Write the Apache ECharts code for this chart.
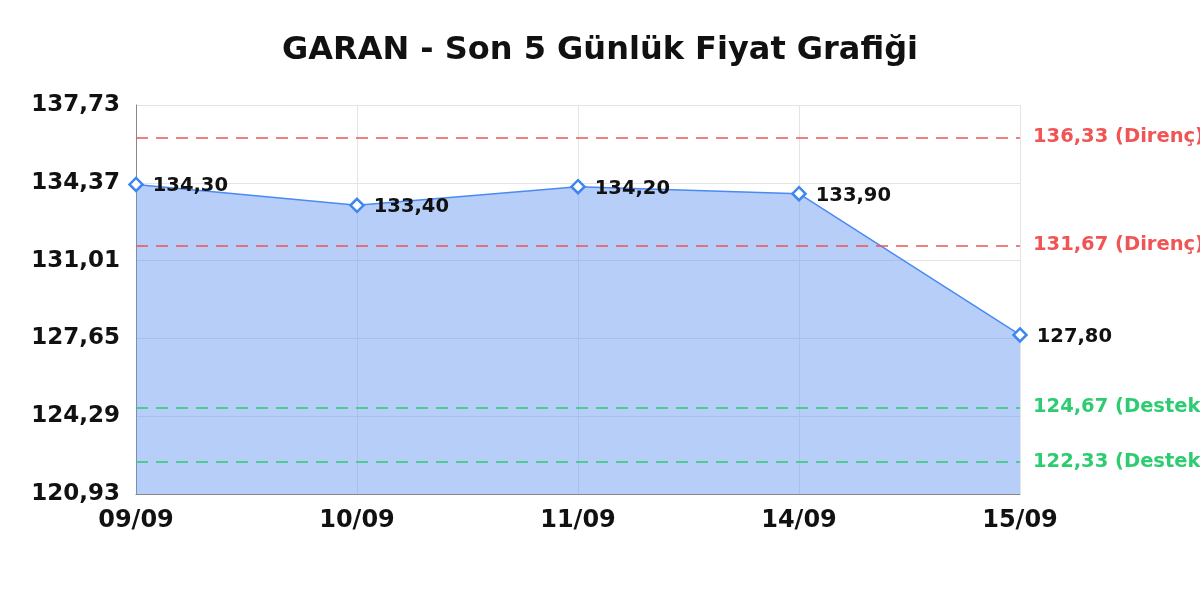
<!DOCTYPE html>
<html><head><meta charset="utf-8">
<script src="https://cdn.jsdelivr.net/npm/echarts@6/dist/echarts.min.js"></script>
<style>html,body{margin:0;padding:0;background:#fff}#c{width:1200px;height:600px}</style>
</head><body><div id="c"></div>
<script>
const categories = ['09/09','10/09','11/09','14/09','15/09'];
const prices = [134.30, 133.40, 134.20, 133.90, 127.80];
const resistance = [136.33, 131.67];
const support = [124.67, 122.33];
const yMin = 120.93, yMax = 137.73, yStep = 3.36;
const fmt = v => v.toFixed(2).replace('.', ',');
const FONT = 'DejaVu Sans';
const chart = echarts.init(document.getElementById('c'));
const markData = resistance.map(v => ({yAxis: v, name: 'Direnç', lineStyle:{color:'#f05454'}, label:{color:'#f05454'}}))
  .concat(support.map(v => ({yAxis: v, name: 'Destek', lineStyle:{color:'#2ecc71'}, label:{color:'#2ecc71'}})));
chart.setOption({
  animation: false,
  title: {text: 'GARAN - Son 5 Günlük Fiyat Grafiği', left: 'center', top: 30,
    textStyle: {fontFamily: FONT, fontSize: 32, fontWeight: 'bold', color: '#111'}},
  grid: {left: 136, right: 180, top: 105, bottom: 106},
  xAxis: {type: 'category', data: categories, boundaryGap: false,
    axisLine: {lineStyle: {color: '#888'}}, axisTick: {show: false},
    axisLabel: {fontFamily: FONT, fontSize: 24, fontWeight: 'bold', color: '#111', margin: 15},
    splitLine: {show: true, lineStyle: {color: '#e4e4e4'}}},
  yAxis: {type: 'value', min: yMin, max: yMax, interval: yStep,
    axisLine: {show: true, lineStyle: {color: '#888'}}, axisTick: {show: false},
    axisLabel: {fontFamily: FONT, fontSize: 23, fontWeight: 'bold', color: '#111', margin: 16, formatter: v => fmt(v)},
    splitLine: {show: true, lineStyle: {color: '#e4e4e4'}}},
  series: [{
    type: 'line', data: prices, symbol: 'diamond', symbolSize: 13,
    itemStyle: {color: '#ffffff', borderColor: '#3d85f0', borderWidth: 2.5},
    lineStyle: {color: '#4a8af4', width: 1.5},
    areaStyle: {color: 'rgba(100,150,240,0.47)', opacity: 1},
    label: {show: true, position: 'right', distance: 9, offset: [0, 2], formatter: p => fmt(p.value),
      fontFamily: FONT, fontSize: 19.5, fontWeight: 'bold', color: '#111'},
    markLine: {symbol: 'none', silent: true,
      lineStyle: {type: [12, 8], width: 1.5},
      label: {position: 'end', distance: 13, fontFamily: FONT, fontSize: 19.5, fontWeight: 'bold',
        formatter: p => fmt(p.value) + ' (' + p.name + ')'},
      data: markData}
  }]
});
</script></body></html>
